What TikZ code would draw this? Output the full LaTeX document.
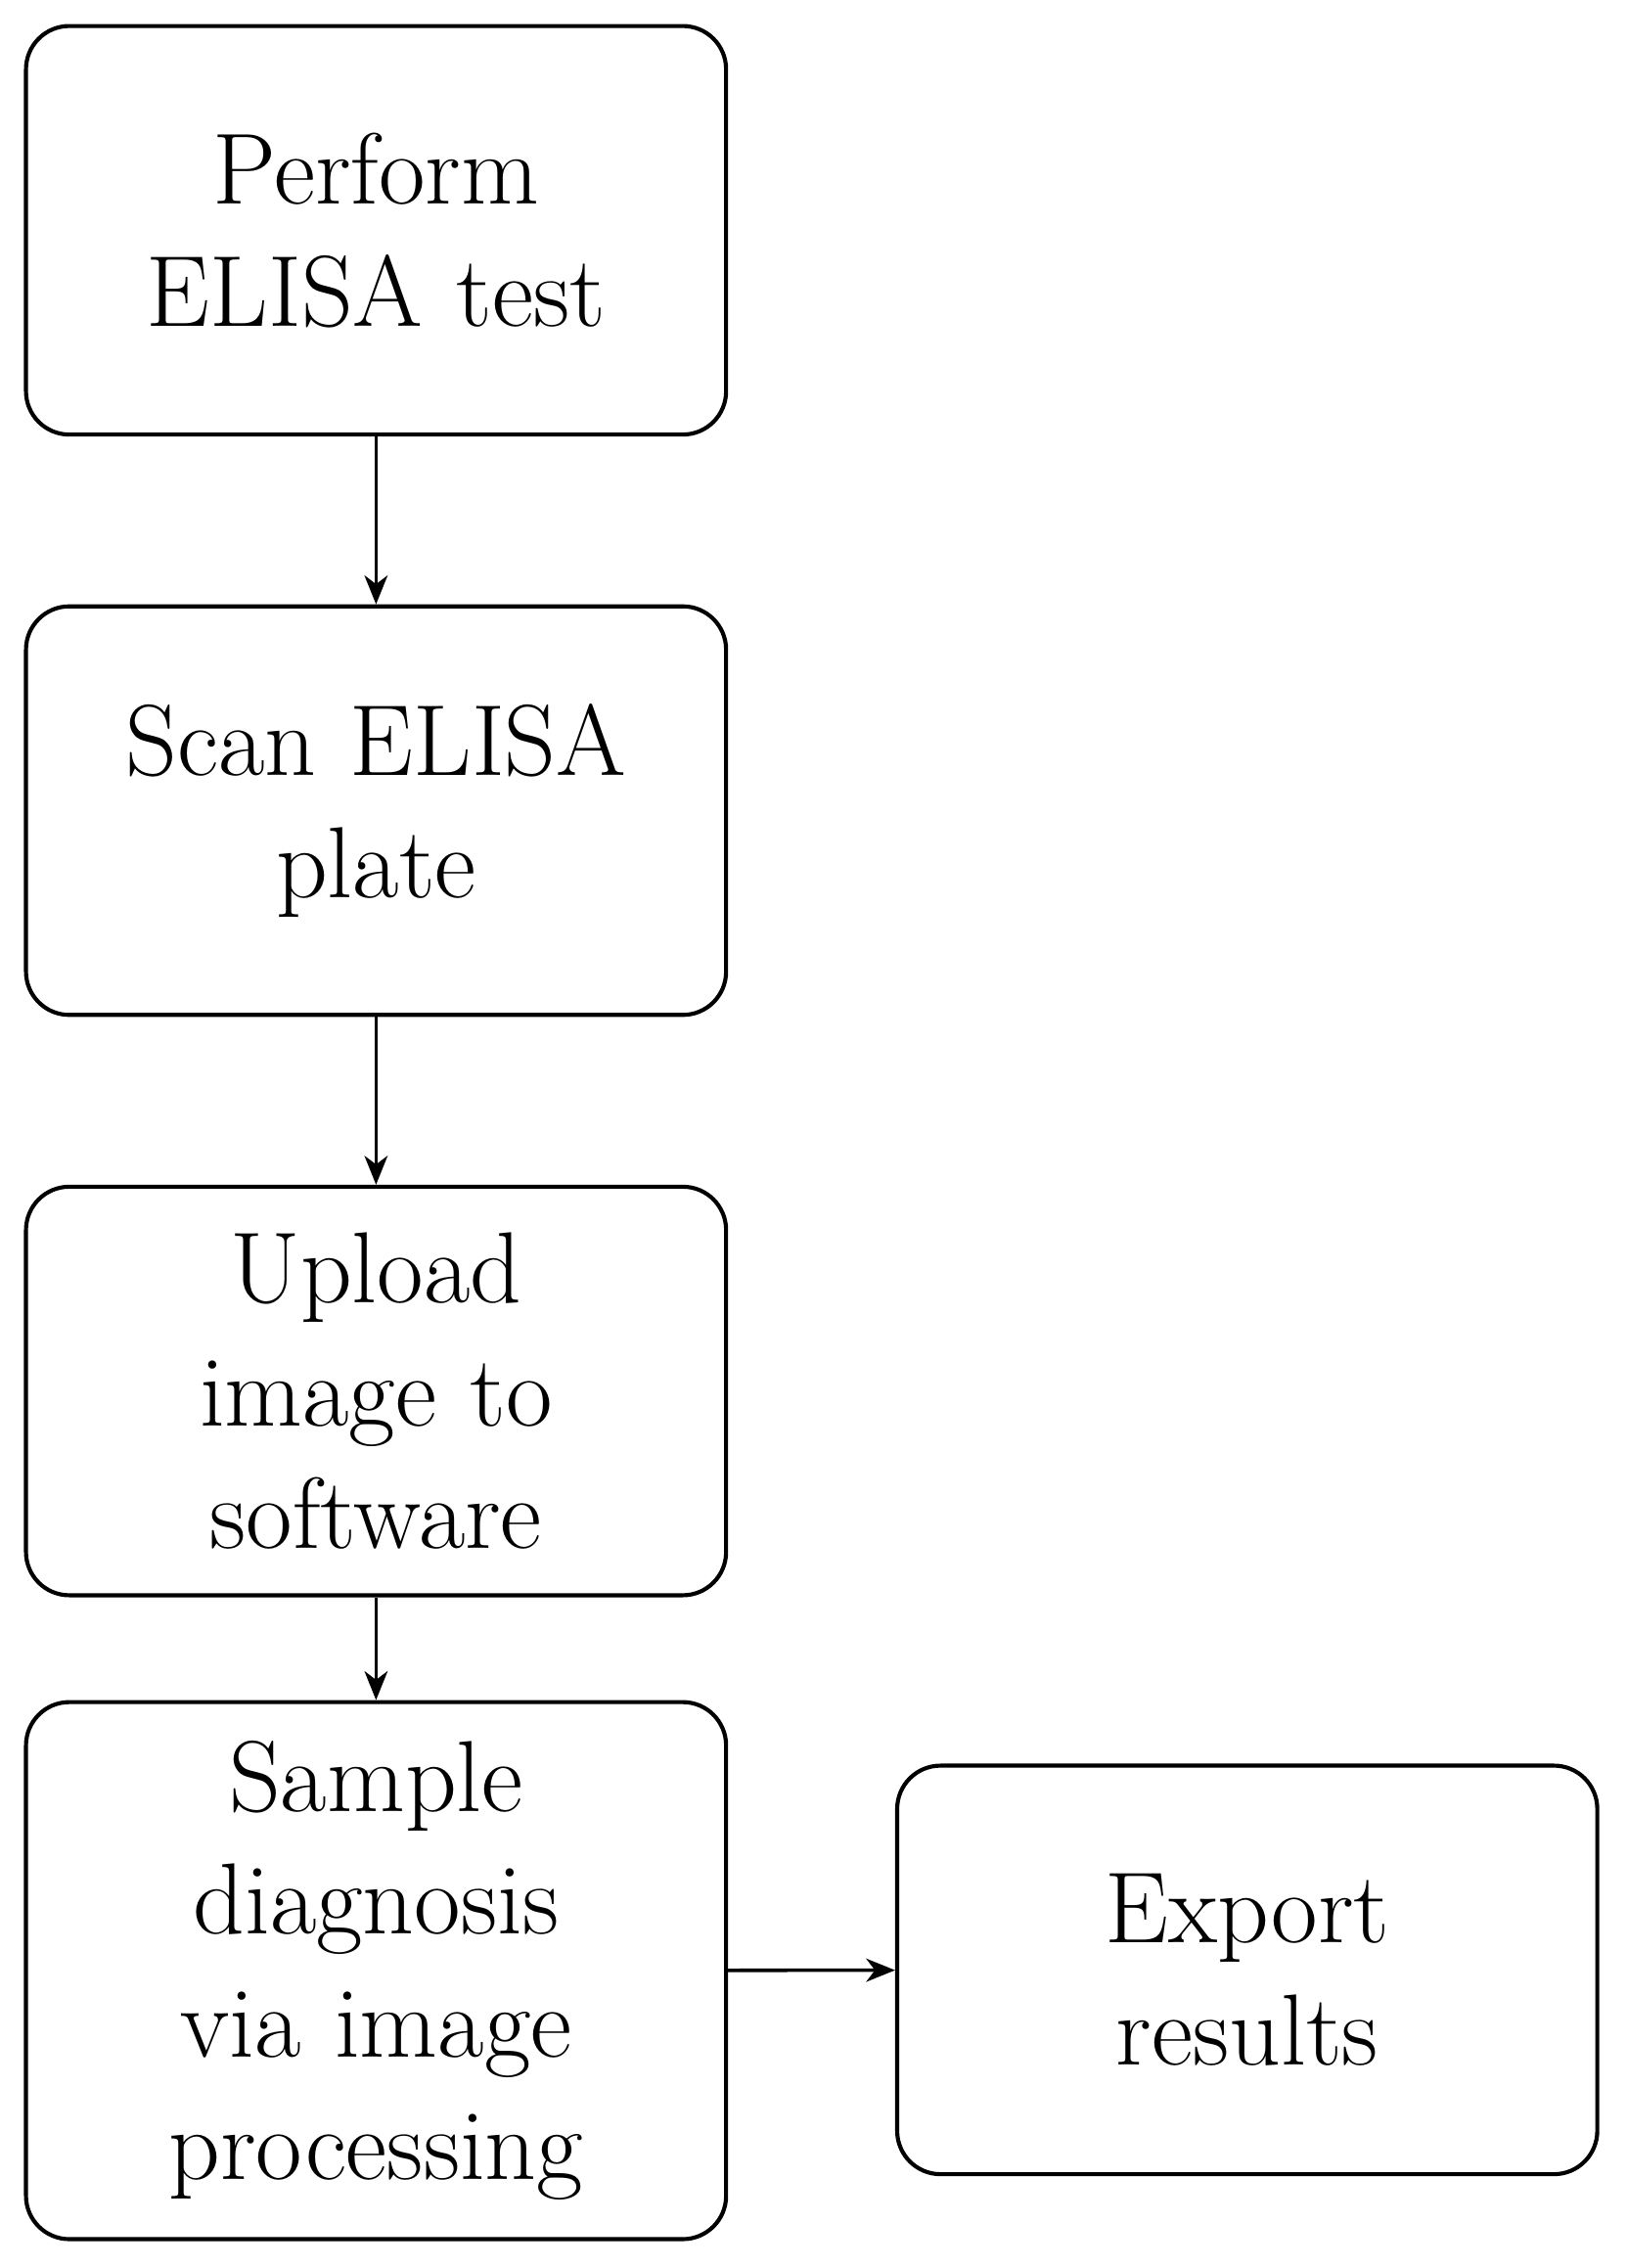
\documentclass[tikz,border=0pt]{standalone}
\usepackage{mathpazo}
\usetikzlibrary{arrows.meta}
\begin{document}
\begin{tikzpicture}[x=1pt,y=1pt,
  box/.style={draw,line width=1.4pt,rounded corners=15pt,minimum width=242.5pt,minimum height=141.5pt,text width=215pt,align=center,font=\fontsize{35}{42.5}\selectfont,inner sep=0pt},
  arr/.style={-{Stealth[length=10pt,width=8pt,inset=3pt]},line width=1.2pt}]
\useasboundingbox (0,0) rectangle (563.5,-785.5);
\node[box] (a) at (130.25,-79.75) {Perform\\ELISA test};
\node[box] (b) at (130.25,-280.75) {Scan ELISA\\plate};
\node[box] (c) at (130.25,-481.75) {Upload\\image to\\software};
\node[box,minimum height=186pt] (d) at (130.25,-682.5) {Sample\\diagnosis\\via image\\processing};
\node[box] (e) at (432,-682.25) {Export\\results};
\draw[arr] (a) -- (b);
\draw[arr] (b) -- (c);
\draw[arr] (c) -- (d);
\draw[arr] (d) -- (e);
\end{tikzpicture}
\end{document}
